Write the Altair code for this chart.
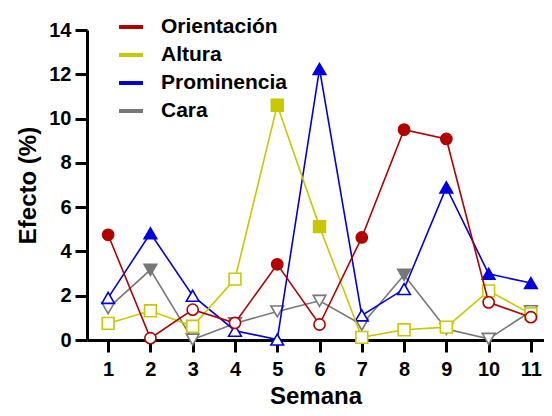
import altair as alt
import pandas as pd

semanas = list(range(1, 12))
series = ["Orientación", "Altura", "Prominencia", "Cara"]
colores = ["#B00000", "#C8C800", "#0000DD", "#777777"]
formas = ["circle", "square", "triangle-up", "triangle-down"]
tamanos = [125, 140, 160, 160]

orientacion = [4.75, 0.08, 1.37, 0.77, 3.42, 0.70, 4.63, 9.50, 9.08, 1.70, 1.03]
orientacion_sig = [1, 0, 0, 0, 1, 0, 1, 1, 1, 0, 0]
altura = [0.75, 1.32, 0.62, 2.75, 10.60, 5.12, 0.12, 0.46, 0.58, 2.22, 1.18]
altura_sig = [0, 0, 0, 0, 1, 1, 0, 0, 0, 0, 0]
prominencia = [1.90, 4.82, 2.00, 0.42, 0.02, 12.24, 1.11, 2.30, 6.89, 2.99, 2.57]
prominencia_sig = [0, 1, 0, 0, 0, 1, 0, 0, 1, 1, 1]
cara = [1.44, 3.17, 0.02, 0.75, 1.29, 1.77, 0.69, 2.94, 0.50, 0.05, 1.30]
cara_sig = [0, 1, 0, 0, 0, 0, 0, 1, 0, 0, 0]

valores = [orientacion, altura, prominencia, cara]
sigs = [orientacion_sig, altura_sig, prominencia_sig, cara_sig]

rows = []
for s, vals, sg in zip(series, valores, sigs):
    for w, v, f in zip(semanas, vals, sg):
        rows.append({"semana": w, "valor": v, "serie": s, "sig": f})
df = pd.DataFrame(rows)

FONT = "Liberation Sans"

x = alt.X("semana:Q", title="Semana",
          scale=alt.Scale(domain=[0.5, 11.31], nice=False, zero=False),
          axis=alt.Axis(values=semanas, format="d", labelPadding=7, titlePadding=5))
y = alt.Y("valor:Q", title="Efecto (%)",
          scale=alt.Scale(domain=[0, 14], nice=False),
          axis=alt.Axis(values=list(range(0, 15, 2)), labelPadding=4, titlePadding=8))

color_scale = alt.Scale(domain=series, range=colores)

layers = []
orden = [3, 2, 1, 0]
for i in orden:
    s = series[i]
    sub = alt.Chart(df).transform_filter(alt.datum.serie == s)
    line = sub.mark_line(strokeWidth=1.6).encode(
        x=x, y=y,
        color=alt.Color("serie:N", scale=color_scale,
                        legend=alt.Legend(title=None, orient="none", legendX=30, legendY=-17,
                                          symbolType="stroke", symbolStrokeWidth=4, symbolSize=576,
                                          labelFont=FONT, labelFontSize=21, labelFontWeight="bold",
                                          labelColor="black", labelOffset=16, rowPadding=4, padding=0,
                                          labelLimit=300)),
    )
    pts = sub.mark_point(shape=formas[i], filled=True, size=tamanos[i], strokeWidth=1.6,
                         stroke=colores[i], opacity=1).encode(
        x=x, y=y,
        fill=alt.condition("datum.sig == 1", alt.value(colores[i]), alt.value("white")),
    )
    layers.append(line)
    layers.append(pts)

chart = alt.layer(*layers).properties(
    width=457, height=310,
    autosize=alt.AutoSizeParams(type="none"),
    padding={"left": 79, "top": 22, "right": 0, "bottom": 68},
).configure_view(stroke=None).configure_axis(
    grid=False, domainColor="black", domainWidth=3, tickColor="black", tickWidth=3, tickSize=12,
    labelFont=FONT, labelFontWeight="bold", labelFontSize=20, labelColor="black",
    titleFont=FONT, titleFontWeight="bold", titleFontSize=24, titleColor="black",
)

chart.save("out.html", embed_options={"renderer": "svg", "actions": False})
